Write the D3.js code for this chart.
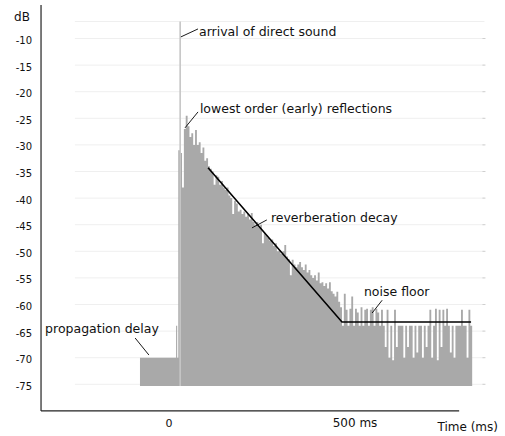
<!DOCTYPE html>
<html>
<head>
<meta charset="utf-8">
<script src="https://cdn.jsdelivr.net/npm/d3@7"></script>
<style>
  html, body { margin: 0; padding: 0; background: #fff; }
  svg { display: block; }
  text { font-family: "DejaVu Sans", sans-serif; fill: #111; }
</style>
</head>
<body>
<svg id="chart" width="505" height="436"></svg>
<script>
// ---- data ----
const yTicks = [-10, -15, -20, -25, -30, -35, -40, -45, -50, -55, -60, -65, -70, -75];
const xTickValues = [0, 500];
const xTickLabels = ["0", "500 ms"];

// propagation delay + onset (time ms, level dB)
const onsetTimes = [-78, 19, 22];
const onsetLevels = [-70, -64, -70];

// energy envelope sampled every 5 ms from 25 ms
const sampleStart = 25, sampleStep = 5, sampleEnd = 815;
const levels = [
  -31, -31.5, -38, -27, -24.5, -26.5, -28.5, -27.8, -30, -27.2,
  -30, -29.5, -31.5, -30.5, -33, -32.5, -34, -34.5, -35, -37.5,
  -35.7, -36, -37.5, -36.8, -38, -38.5, -38, -39.5, -40, -43,
  -40.5, -41, -42.5, -42.2, -43, -42.5, -43.5, -43, -44, -42.8,
  -44.5, -45, -44.5, -45.5, -45, -48.5, -46.5, -47, -47.5, -48,
  -47.8, -49, -48.5, -50, -49.8, -50.5, -50, -48.8, -51, -51.5,
  -54.5, -51.6, -52.5, -53, -52.5, -52, -53, -53.5, -52.5, -54,
  -53.5, -54.5, -55, -54.5, -55.5, -54, -56, -55.8, -56.5, -56,
  -57, -55.8, -57.5, -58, -58.5, -57.6, -59.5, -60.5, -64, -58,
  -61, -64, -60.8, -58.5, -64, -60.8, -61.5, -64, -60.5, -64,
  -61, -60.8, -64, -61, -60.5, -64, -60.8, -61.5, -64, -61,
  -64, -68, -61, -70, -64, -70.5, -61, -68, -64, -64,
  -64, -70, -64, -68, -64, -64, -70, -64, -69, -64,
  -64, -70, -64, -68, -64, -61, -70, -64, -60.8, -70.5,
  -61, -68, -61, -64, -60.8, -64, -69, -64, -70, -64,
  -64, -64, -61, -64, -64, -70, -61, -64
];
const floorLevel = -75.3;

// direct sound impulse
const directT = 30, directDb = -6.8;

// fitted lines: reverberation decay then noise floor
const fitT = [105, 465, 812];
const fitDb = [-34.3, -63.3, -63.3];

// annotations
const annTexts = ["arrival of direct sound", "lowest order (early) reflections", "reverberation decay", "noise floor", "propagation delay"];
const annT = [80.6, 83, 274, 524, -333];
const annDb = [-8.8, -23.1, -43.7, -57.6, -64.6];
const ptrFrom = [[32, -9.7], [43, -26.8], [223, -45.6], [546, -61.6], [-91, -66.3]];
const ptrTo = [[78, -8.2], [78, -23.8], [263, -44.1], [573, -59.2], [-54, -69.5]];

// ---- scales ----
const x = d3.scaleLinear().domain([0, 500]).range([169, 355]);
const y = d3.scaleLinear().domain([-10, -75]).range([38.5, 384.3]);

const svg = d3.select("#chart");

// grid lines
const gridX0 = x(-253), gridX1 = x(848);
const gridVals = [-6.8].concat(yTicks);
svg.append("g").selectAll("line").data(gridVals).join("line")
  .attr("x1", gridX0).attr("x2", gridX1)
  .attr("y1", d => y(d)).attr("y2", d => y(d))
  .attr("stroke", "#efefef").attr("stroke-width", 1);
svg.append("g").selectAll("line").data(yTicks).join("line")
  .attr("x1", gridX1 - 2).attr("x2", gridX1 + 1)
  .attr("y1", d => y(d)).attr("y2", d => y(d))
  .attr("stroke", "#cfcfcf").attr("stroke-width", 1);

// build step series
const series = [];
onsetTimes.forEach((t, i) => series.push({ t: t, v: onsetLevels[i] }));
levels.forEach((v, i) => series.push({ t: sampleStart + i * sampleStep, v: v }));
series.push({ t: sampleEnd, v: levels[levels.length - 1] });

const area = d3.area().curve(d3.curveStepAfter)
  .x(d => x(d.t)).y0(y(floorLevel)).y1(d => y(d.v));
svg.append("path").datum(series).attr("d", area)
  .attr("fill", "#a9a9a9").attr("stroke", "none");

// direct sound spike
svg.append("line")
  .attr("x1", x(directT)).attr("x2", x(directT))
  .attr("y1", y(floorLevel)).attr("y2", y(directDb))
  .attr("stroke", "#c6c6c6").attr("stroke-width", 1.6);

// fitted lines
svg.append("path").datum(fitT.map((t, i) => [t, fitDb[i]]))
  .attr("d", d3.line().x(d => x(d[0])).y(d => y(d[1])))
  .attr("fill", "none").attr("stroke", "#000").attr("stroke-width", 1.6);

// axes lines
const axisLeftT = -344, axisRightT = 780, axisBottomDb = -80, axisTopDb = -3.7;
svg.append("line")
  .attr("x1", x(axisLeftT)).attr("x2", x(axisLeftT))
  .attr("y1", y(axisTopDb)).attr("y2", y(axisBottomDb))
  .attr("stroke", "#222").attr("stroke-width", 1.2);
svg.append("line")
  .attr("x1", x(axisLeftT)).attr("x2", x(axisRightT))
  .attr("y1", y(axisBottomDb)).attr("y2", y(axisBottomDb))
  .attr("stroke", "#222").attr("stroke-width", 1.2);

// y tick labels
svg.append("g").selectAll("text").data(yTicks).join("text")
  .attr("x", x(axisLeftT) - 9).attr("y", d => y(d) + 2)
  .attr("dy", "0.35em").attr("text-anchor", "end")
  .attr("font-size", 10).text(d => d);
svg.append("text").attr("x", 22).attr("y", 17).attr("dy", "0.35em")
  .attr("text-anchor", "middle").attr("font-size", 12).text("dB");

// x tick labels
svg.append("g").selectAll("text").data(xTickValues).join("text")
  .attr("x", d => x(d)).attr("y", 423).attr("dy", "0.35em")
  .attr("text-anchor", "middle").attr("font-size", (d, i) => i === 0 ? 11 : 12)
  .text((d, i) => xTickLabels[i]);
svg.append("text").attr("x", 498).attr("y", 427).attr("dy", "0.35em")
  .attr("text-anchor", "end").attr("font-size", 12).text("Time (ms)");

// annotations
svg.append("g").selectAll("line").data(annTexts).join("line")
  .attr("x1", (d, i) => x(ptrFrom[i][0])).attr("y1", (d, i) => y(ptrFrom[i][1]))
  .attr("x2", (d, i) => x(ptrTo[i][0])).attr("y2", (d, i) => y(ptrTo[i][1]))
  .attr("stroke", "#000").attr("stroke-width", 0.9);
svg.append("g").selectAll("text").data(annTexts).join("text")
  .attr("x", (d, i) => x(annT[i])).attr("y", (d, i) => y(annDb[i]))
  .attr("dy", "0.35em").attr("font-size", 12.5).text(d => d);
</script>
</body>
</html>
